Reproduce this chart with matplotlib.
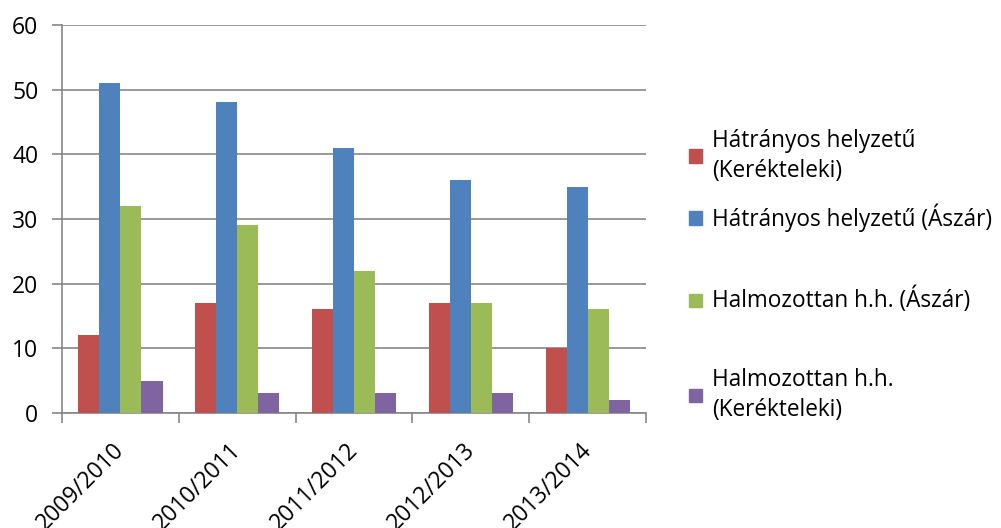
import numpy as np
import matplotlib
matplotlib.use('Agg')
import matplotlib.pyplot as plt
import matplotlib.transforms as mtransforms
from matplotlib.patches import Rectangle

plt.rcParams['font.family'] = ['Open Sans', 'DejaVu Sans']

years = ['2009/2010', '2010/2011', '2011/2012', '2012/2013', '2013/2014']
series_names = ['Hátrányos helyzetű\n(Kerékteleki)', 'Hátrányos helyzetű (Ászár)',
                'Halmozottan h.h. (Ászár)', 'Halmozottan h.h.\n(Kerékteleki)']
hh_kerek = [12, 17, 16, 17, 10]
hh_aszar = [51, 48, 41, 36, 35]
hhh_aszar = [32, 29, 22, 17, 16]
hhh_kerek = [5, 3, 3, 3, 2]
colors = ['#C0504D', '#4F81BD', '#9BBB59', '#8064A2']

fig = plt.figure(figsize=(10.01, 5.28), dpi=100)
ax = fig.add_axes([0.062, 0.218, 0.5834, 0.7349])

x = np.arange(len(years))
w = 0.18
for i, vals in enumerate([hh_kerek, hh_aszar, hhh_aszar, hhh_kerek]):
    ax.bar(x + (i - 1.5) * w, vals, width=w, color=colors[i], zorder=3)

ax.set_xlim(-0.5, len(years) - 0.5)
ax.set_ylim(0, 60)
ax.set_yticks(range(0, 61, 10))
ax.yaxis.grid(True, color='#878787', linewidth=1.2, zorder=0)
for s in ['top', 'right']:
    ax.spines[s].set_visible(False)
for s in ['left', 'bottom']:
    ax.spines[s].set_color('#878787')
    ax.spines[s].set_linewidth(1.2)

ax.set_xticks(x)
ax.set_xticklabels(years, rotation=45, ha='right', rotation_mode='anchor', fontsize=16.5)
ax.tick_params(axis='x', length=0, pad=18)
shift = mtransforms.ScaledTranslation(-8 / 100, 0, fig.dpi_scale_trans)
for lab in ax.get_xticklabels():
    lab.set_transform(lab.get_transform() + shift)
ax.set_xticks(np.arange(-0.5, len(years)), minor=True)
ax.tick_params(axis='x', which='minor', length=7, width=1.2, color='#878787', direction='out')
ax.tick_params(axis='y', length=7, width=1.2, color='#878787', labelsize=16.5, pad=10)

# legend drawn by hand to follow Excel's spacing
leg_y = [156, 218, 300, 395]
for name, c, yp in zip(series_names, colors, leg_y):
    fy = 1 - yp / 528
    fig.patches.append(Rectangle((689 / 1001, fy - 6.5 / 528), 13 / 1001, 13 / 528,
                                 transform=fig.transFigure, color=c, figure=fig))
    fig.text(712 / 1001, fy, name, fontsize=16.3, va='center', ha='left', linespacing=1.3)

fig.savefig('out.png', dpi=100)
